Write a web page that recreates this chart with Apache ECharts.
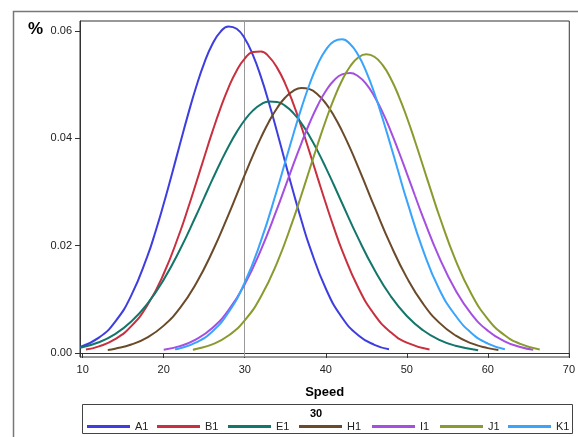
<!DOCTYPE html>
<html><head><meta charset="utf-8">
<script src="https://cdn.jsdelivr.net/npm/echarts@6/dist/echarts.min.js"></script>
<style>html,body{margin:0;padding:0;background:#fff}#c{width:578px;height:437px}</style>
</head><body><div id="c"></div>
<script>
var seriesNames = ['A1','B1','E1','H1','I1','J1','K1'];
var xTicks = [10,20,30,40,50,60,70];
var yTicks = [0,0.02,0.04,0.06];
var legendTitle = '30';
var refLine = 30;

var A1 = [[9.7,0.00113],[12,0.00286],[14,0.00581],[16,0.01074],[18,0.01811],[19,0.02271],[20,0.02782],[21,0.03329],[22,0.03891],[23,0.04444],[24,0.04959],[25,0.05405],[26,0.05756],[27,0.05988],[28,0.06089],[29,0.06045],[30,0.05864],[31,0.05558],[32,0.05147],[33,0.04656],[34,0.04115],[35,0.03553],[36,0.02997],[37,0.0247],[38,0.01989],[40,0.01202],[42,0.00662],[44,0.00332],[46,0.00152],[47.8,0.00069]];
var B1 = [[10.4,0.00064],[12,0.00123],[14,0.00258],[16,0.0050],[18,0.00894],[20,0.01477],[22,0.02251],[23,0.02698],[24,0.03169],[25,0.0365],[26,0.04122],[27,0.04561],[28,0.04949],[29,0.05264],[30,0.05489],[31,0.0561],[32,0.05621],[33,0.05521],[34,0.05316],[35,0.05019],[36,0.04644],[37,0.04213],[38,0.03746],[39,0.03265],[40,0.02791],[41,0.02338],[42,0.0192],[44,0.0122],[46,0.00716],[48,0.00388],[50,0.00194],[52.8,0.00064]];
var E1 = [[9.7,0.00098],[12,0.0020],[14,0.00352],[16,0.00585],[18,0.00919],[20,0.01368],[22,0.01925],[24,0.02564],[25,0.02898],[26,0.03231],[27,0.03552],[28,0.03851],[29,0.04118],[30,0.04344],[31,0.04519],[32,0.04636],[33,0.04691],[34,0.04681],[35,0.04608],[36,0.04472],[37,0.04281],[38,0.04042],[39,0.03764],[40,0.03457],[41,0.03132],[42,0.02797],[44,0.02141],[46,0.01552],[48,0.01062],[50,0.00689],[52,0.00423],[54,0.00245],[56,0.00135],[58.8,0.00053]];
var H1 = [[13.1,0.00057],[14,0.00079],[16,0.00157],[18,0.00292],[20,0.0051],[22,0.00838],[24,0.01297],[26,0.01887],[28,0.02581],[29,0.0295],[30,0.0332],[31,0.0368],[32,0.04016],[33,0.04317],[34,0.04569],[35,0.04763],[36,0.04889],[37,0.04941],[38,0.04919],[39,0.04821],[40,0.04654],[41,0.04424],[42,0.04142],[43,0.03818],[44,0.03466],[45,0.03098],[46,0.02728],[48,0.02019],[50,0.01405],[52,0.00919],[54,0.00566],[56,0.00328],[58,0.00178],[60,0.00091],[61.3,0.00057]];
var I1 = [[20,0.00061],[22,0.00128],[24,0.00253],[26,0.00465],[28,0.0080],[30,0.01283],[32,0.01923],[34,0.0269],[35,0.03101],[36,0.03515],[37,0.03915],[38,0.04288],[39,0.04615],[40,0.04884],[41,0.0508],[42,0.05194],[43,0.05221],[44,0.05159],[45,0.05011],[46,0.04784],[47,0.04491],[48,0.04143],[49,0.03757],[50,0.0335],[51,0.02936],[52,0.0253],[54,0.01784],[56,0.01174],[58,0.00722],[60,0.00415],[62,0.00222],[64,0.00111],[65.6,0.00061]];
var J1 = [[23.6,0.00062],[24,0.00073],[26,0.0016],[28,0.00325],[30,0.00608],[32,0.01053],[34,0.01686],[36,0.02497],[37,0.02951],[38,0.03421],[39,0.03888],[40,0.04335],[41,0.04739],[42,0.05081],[43,0.05342],[44,0.05508],[45,0.0557],[46,0.05523],[47,0.05371],[48,0.05123],[49,0.04791],[50,0.04395],[51,0.03953],[52,0.03487],[53,0.03017],[54,0.02559],[56,0.01737],[58,0.01091],[60,0.00633],[62,0.0034],[64,0.00169],[66.4,0.00066]];
var K1 = [[21.4,0.00068],[22,0.00088],[24,0.00196],[26,0.00402],[28,0.00759],[30,0.01314],[32,0.0209],[34,0.03048],[35,0.03564],[36,0.04079],[37,0.0457],[38,0.05011],[39,0.05379],[40,0.05651],[41,0.0581],[42,0.05849],[43,0.05761],[44,0.05554],[45,0.05242],[46,0.04843],[47,0.04378],[48,0.03875],[49,0.03356],[50,0.02845],[52,0.01918],[54,0.01187],[56,0.0070],[58,0.0037],[60,0.00175],[62.1,0.00071]];

var allData = [A1,B1,E1,H1,I1,J1,K1];
var colors = ['#3d3de0','#c8303f','#13766a','#6a4a2a','#a44fe0','#8a9a2e','#38a4fb'];
var legendLeft = [87,157,228,299,372,440,508];
var FONT = '"Liberation Sans", Arial, sans-serif';

var series = seriesNames.map(function(n,i){
  var s = {name:n,type:'line',data:allData[i],smooth:0.5,showSymbol:false,symbol:'none',
    lineStyle:{width:2,color:colors[i]},itemStyle:{color:colors[i]},z:3};
  if(i===0){
    s.markLine = {silent:true,symbol:['none','none'],label:{show:false},
      lineStyle:{color:'#999',width:1,type:'solid'},data:[{xAxis:refLine}],z:1};
  }
  return s;
});

var legends = seriesNames.map(function(n,i){
  return {data:[n],left:legendLeft[i],top:421,padding:0,itemWidth:43,itemHeight:3,
    icon:'rect',textStyle:{fontFamily:FONT,fontSize:11,color:'#222'},itemStyle:{borderWidth:0},selectedMode:false};
});

var chart = echarts.init(document.getElementById('c'),null,{renderer:'canvas'});
chart.setOption({
  animation:false,
  backgroundColor:'#fff',
  grid:{left:80,top:21,right:5,bottom:80,show:true,borderColor:'#333',borderWidth:1,backgroundColor:'#fff'},
  xAxis:{type:'value',min:9.67,max:70.05,
    name:'Speed',nameLocation:'middle',nameGap:29,
    nameTextStyle:{fontFamily:FONT,fontWeight:'bold',fontSize:13,color:'#000'},
    axisLine:{lineStyle:{color:'#333'}},
    axisTick:{show:true,length:5,customValues:xTicks,lineStyle:{color:'#333'}},
    axisLabel:{customValues:xTicks,fontFamily:FONT,fontSize:11,color:'#222',margin:7},
    splitLine:{show:false}},
  yAxis:{type:'value',min:-0.00075,max:0.0619,
    axisLine:{show:true,lineStyle:{color:'#333'}},
    axisTick:{show:true,length:5,customValues:yTicks,lineStyle:{color:'#333'}},
    axisLabel:{customValues:yTicks,fontFamily:FONT,fontSize:11,color:'#222',margin:8,
      formatter:function(v){return v.toFixed(2);}},
    splitLine:{show:false}},
  legend:legends,
  graphic:[
    {type:'rect',shape:{x:13.5,y:11.5,width:620,height:500},style:{fill:'none',stroke:'#777',lineWidth:1.5},silent:true,z:-1},
    {type:'rect',shape:{x:82.5,y:404.5,width:490,height:29},style:{fill:'none',stroke:'#444',lineWidth:1},silent:true},
    {type:'text',x:316,y:408,style:{text:legendTitle,font:'bold 11px '+FONT,fill:'#000',textAlign:'center'},silent:true},
    {type:'text',x:28,y:21,style:{text:'%',font:'bold 17px '+FONT,fill:'#000'},silent:true}
  ],
  series:series
});
</script>
</body></html>
